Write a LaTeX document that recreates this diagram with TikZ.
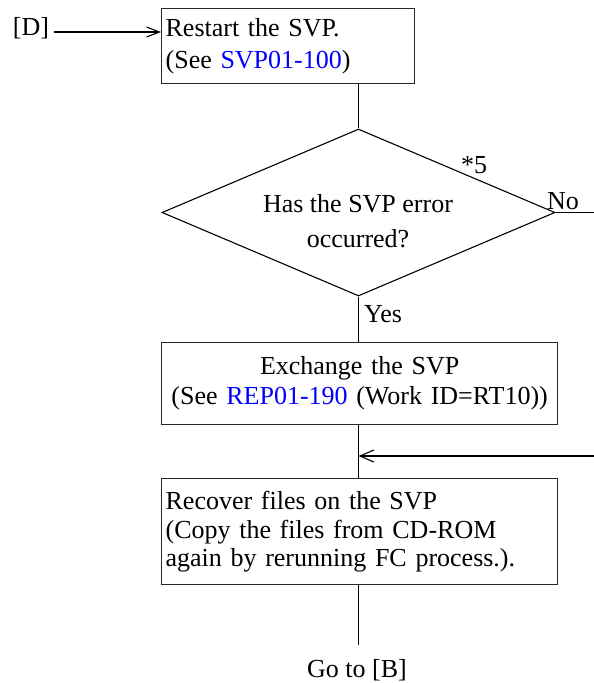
\documentclass[tikz,border=0pt]{standalone}
\usepackage{fontspec}
\setmainfont{Liberation Serif}
\usetikzlibrary{shapes.geometric,arrows.meta}
\definecolor{linkblue}{RGB}{0,0,255}
\begin{document}
\begin{tikzpicture}[x=1pt,y=-1pt,
  every node/.style={font=\fontsize{26}{31}\selectfont, inner sep=0pt},
  procbox/.style={draw=black!85, line width=1.3pt, anchor=north west, inner xsep=4pt},
  decbox/.style={draw=black, line width=1.1pt, diamond, minimum width=393pt, minimum height=167pt},
  conn/.style={draw=black, line width=1.1pt},
  arr/.style={conn, -{Straight Barb[length=14pt,width=12pt,line width=1.1pt]}},
  lbl/.style={anchor=base}
]
\useasboundingbox (0,0) rectangle (594,683);

% nodes
\node[lbl] (D) at (31,35) {[D]};
\node[procbox, minimum width=253pt, minimum height=75pt, text width=245pt, align=left,
      font=\fontsize{26}{32}\selectfont] (b1) at (161,8)
  {Restart the SVP.\\(See \textcolor{linkblue}{SVP01-100})};
\node[decbox] (dia) at (358.5,212.5) {};
\node[align=center, font=\fontsize{26}{35}\selectfont] (diatext) at (358,221) {Has the SVP error\\occurred?};
\node[procbox, minimum width=396pt, minimum height=82pt, text width=388pt, align=center,
      font=\fontsize{26}{30}\selectfont] (b2) at (161,342)
  {Exchange the SVP\\(See \textcolor{linkblue}{REP01-190} (Work ID=RT10))};
\node[procbox, minimum width=396pt, minimum height=106pt, text width=388pt, align=left,
      font=\fontsize{26}{28.5}\selectfont] (b3) at (161,478)
  {Recover files on the SVP\\(Copy the files from CD-ROM\\again by rerunning FC process.).};
\node[lbl] (goto) at (357,677) {Go to [B]};

\node[lbl] (star5) at (474,173) {*5};
\node[lbl] (no) at (563,209) {No};
\node[lbl] (yes) at (383,322) {Yes};

\coordinate (noend) at (594,212.5);
\coordinate (ret) at (594,456);
\coordinate (retjoin) at (358.5,456);
\coordinate (endline) at (358.5,645);
\coordinate (Dstart) at (54,32);
\coordinate (b1in) at (161,32);

% connectors
\draw[conn, -{Straight Barb[length=13pt,width=10pt,line width=1.1pt]}] (Dstart) -- (b1in);
\draw[conn] (b1.south -| dia.north) -- (dia.north);
\draw[conn] (dia.east) -- (noend);
\draw[conn] (dia.south) -- (b2.north -| dia.south);
\draw[conn] (b2.south -| dia.south) -- (b3.north -| dia.south);
\draw[arr] (ret) -- (retjoin);
\draw[conn] (b3.south -| dia.south) -- (endline);
\end{tikzpicture}
\end{document}
